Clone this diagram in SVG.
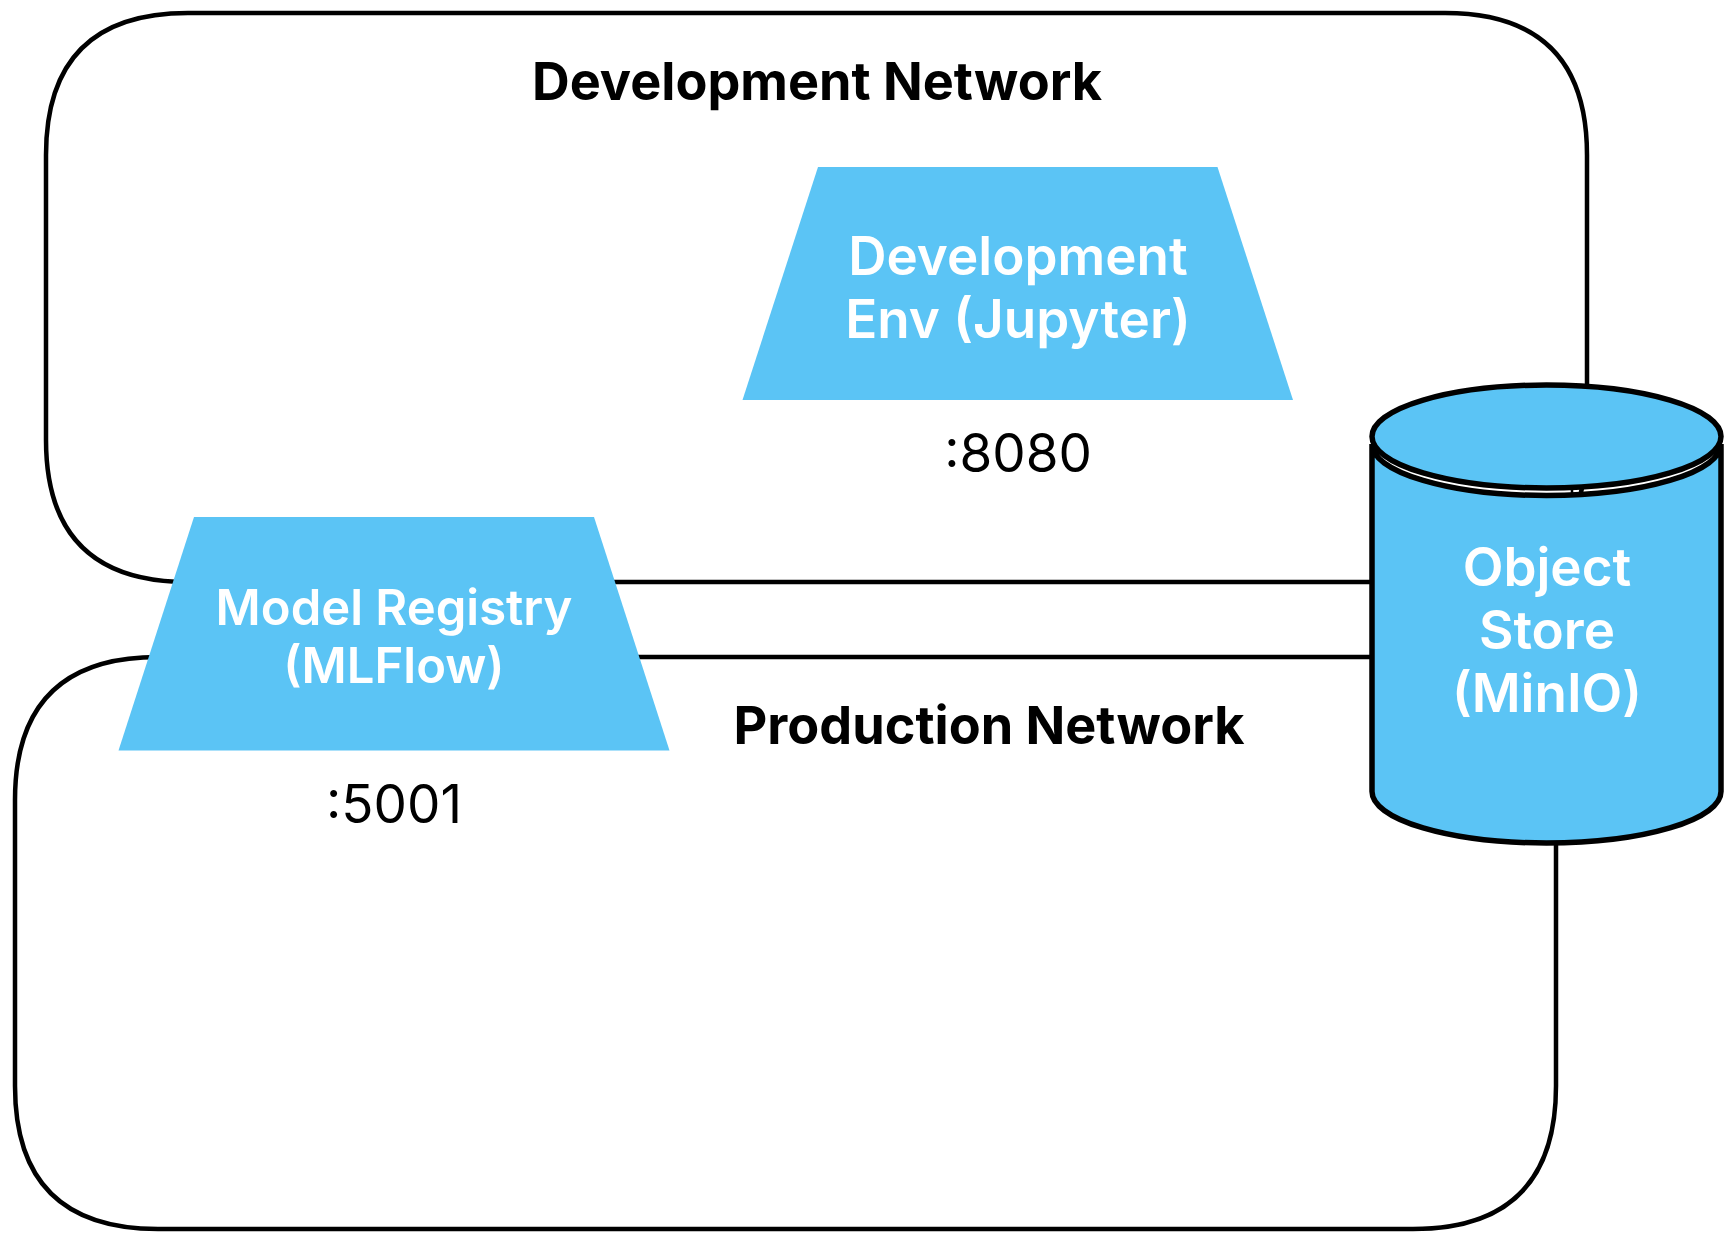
<svg xmlns="http://www.w3.org/2000/svg" width="1734" height="1238" viewBox="0 0 1734 1238">
<style>
.box{fill:none;stroke:#000;stroke-width:4.5;stroke-linejoin:round}
.node{fill:#5bc4f5}
.cyl{fill:#5bc4f5;stroke:#000;stroke-width:5.5}
.title{font-family:Inter,"Liberation Sans",sans-serif;font-weight:700;font-size:52.2px;fill:#000;text-anchor:middle}
.lbl{font-family:Inter,"Liberation Sans",sans-serif;font-weight:600;font-size:53px;fill:#fff;text-anchor:middle}
.lbl2{font-family:Inter,"Liberation Sans",sans-serif;font-weight:600;font-size:49px;fill:#fff;text-anchor:middle}
.port{font-family:Inter,"Liberation Sans",sans-serif;font-weight:400;font-size:53px;fill:#000;text-anchor:middle}
</style>
<rect width="1734" height="1238" fill="#fff"/>
<g id="dev-network">
<path class="box" d="M188,13 L1445,13 Q1587,13 1587,155 L1587,440 Q1587,582 1445,582 L188,582 Q46,582 46,440 L46,155 Q46,13 188,13 Z"/>
<text class="title" x="817" y="100">Development Network</text>
</g>
<g id="prod-network">
<path class="box" d="M158,657 L1413,657 Q1556,657 1556,800 L1556,1086 Q1556,1229 1413,1229 L158,1229 Q15,1229 15,1086 L15,800 Q15,657 158,657 Z"/>
<text class="title" x="989" y="744">Production Network</text>
</g>
<g id="connectors"></g>
<g id="dev-env">
<polygon class="node" points="818,167 1217.5,167 1293,400 742.5,400"/>
<text class="lbl" x="1018" y="275">Development</text>
<text class="lbl" x="1018" y="337.5">Env (Jupyter)</text>
<text class="port" x="1018" y="472">:8080</text>
</g>
<g id="model-registry">
<polygon class="node" points="194,517 594,517 669.5,750.5 118.5,750.5"/>
<text class="lbl2" x="394" y="625">Model Registry</text>
<text class="lbl2" x="394" y="682.5">(MLFlow)</text>
<text class="port" x="394" y="822.5">:5001</text>
</g>
<g id="object-store">
<path class="cyl" d="M1372,444 L1372,791.5 A174.5,51.5 0 0 0 1721,791.5 L1721,444 A174.5,51.5 0 0 1 1372,444 Z"/>
<ellipse class="cyl" cx="1546.5" cy="436.5" rx="174.5" ry="51.5"/>
<line x1="1572" y1="489" x2="1572" y2="495" stroke="#000" stroke-width="2.5"/>
<text class="lbl" x="1547" y="586">Object</text>
<text class="lbl" x="1547" y="649">Store</text>
<text class="lbl" x="1547" y="712">(MinIO)</text>
</g>
</svg>
